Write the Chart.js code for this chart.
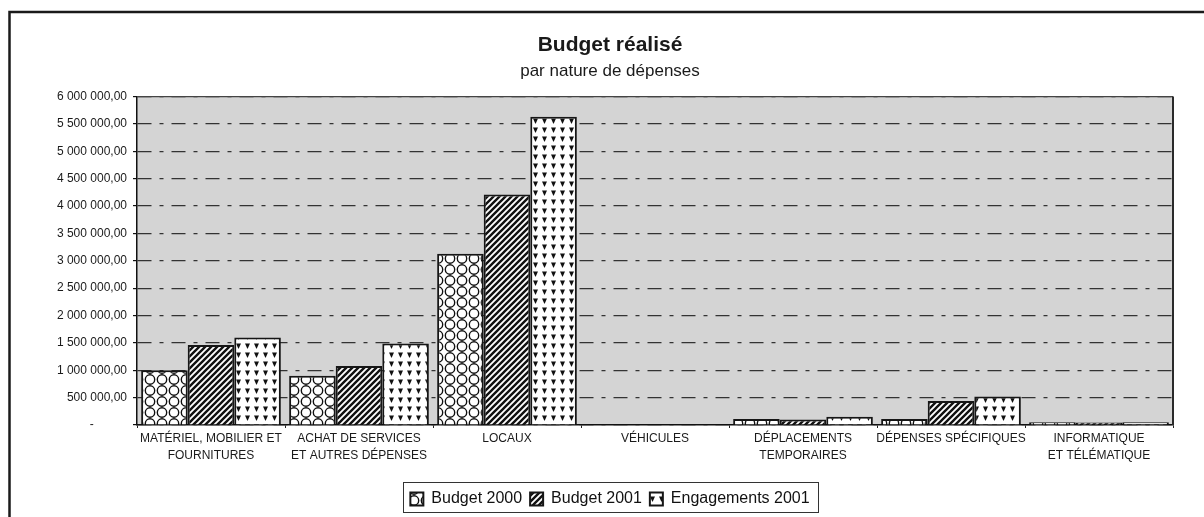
<!DOCTYPE html>
<html>
<head>
<meta charset="utf-8">
<script src="https://cdn.jsdelivr.net/npm/chart.js@4.4.0/dist/chart.umd.min.js"></script>
<style>
  html, body { margin: 0; padding: 0; background: #fff; }
  #wrap { width: 1204px; height: 517px; }
</style>
</head>
<body>
<div id="wrap"><canvas id="budgetChart" width="1204" height="517"></canvas></div>
<script>
// categories (multi-line labels) and amounts
const categories = [
  ['MATÉRIEL, MOBILIER ET', 'FOURNITURES'],
  ['ACHAT DE SERVICES', 'ET AUTRES DÉPENSES'],
  'LOCAUX',
  'VÉHICULES',
  ['DÉPLACEMENTS', 'TEMPORAIRES'],
  'DÉPENSES SPÉCIFIQUES',
  ['INFORMATIQUE', 'ET TÉLÉMATIQUE']
];
const budget2000      = [1000000,  900000, 3130000, 0, 110000, 110000, 50000];
const budget2001      = [1460000, 1080000, 4210000, 0, 100000, 440000, 45000];
const engagements2001 = [1600000, 1490000, 5630000, 0, 150000, 520000, 50000];

// y axis range
const yMax = 6000000;
const yStep = 500000;

Chart.defaults.font.family = '"Liberation Sans", Arial, sans-serif';
Chart.defaults.color = '#1a1a1a';

// "6 000 000,00" style, dash for zero
function fmtMoney(v) {
  if (v === 0) return '-' + '\u00a0'.repeat(10);
  return String(v).replace(/\B(?=(\d{3})+(?!\d))/g, ' ') + ',00';
}

const ctx = document.getElementById('budgetChart').getContext('2d');

// fill patterns
function makePattern(w, h, draw) {
  const c = document.createElement('canvas');
  c.width = w; c.height = h;
  const g = c.getContext('2d');
  g.fillStyle = '#fff';
  g.fillRect(0, 0, w, h);
  g.strokeStyle = '#111';
  g.fillStyle = '#111';
  draw(g, w, h);
  return ctx.createPattern(c, 'repeat');
}

const circles = makePattern(12, 11, function(g) {
  g.lineWidth = 1.4;
  g.beginPath();
  g.arc(6, 5.5, 4.7, 0, Math.PI * 2);
  g.stroke();
});

const hatch = makePattern(6, 6, function(g) {
  g.lineWidth = 2.4;
  g.beginPath();
  g.moveTo(0, 6); g.lineTo(6, 0);
  g.moveTo(-3, 3); g.lineTo(3, -3);
  g.moveTo(3, 9); g.lineTo(9, 3);
  g.stroke();
});

const triangles = makePattern(9, 9, function(g) {
  g.beginPath();
  g.moveTo(2, 1.5);
  g.lineTo(7, 1.5);
  g.lineTo(4.5, 7);
  g.closePath();
  g.fill();
});

// outer frame, grey plot area, plot border and legend box
const framePlugin = {
  id: 'frame',
  beforeDraw(chart) {
    const c = chart.ctx;
    const a = chart.chartArea;
    c.save();
    c.fillStyle = '#fff';
    c.fillRect(0, 0, chart.width, chart.height);
    c.strokeStyle = '#1a1a1a';
    c.lineWidth = 2.5;
    c.beginPath();
    c.moveTo(9.5, chart.height + 2);
    c.lineTo(9.5, 12);
    c.lineTo(chart.width + 2, 12);
    c.stroke();
    c.fillStyle = '#d4d4d4';
    c.fillRect(a.left, a.top, a.right - a.left, a.bottom - a.top);
    c.restore();
  },
  afterDraw(chart) {
    const c = chart.ctx;
    const a = chart.chartArea;
    c.save();
    c.strokeStyle = '#444';
    c.lineWidth = 1.2;
    c.beginPath();
    c.moveTo(a.left, a.top);
    c.lineTo(a.right, a.top);
    c.stroke();
    c.strokeStyle = '#2a2a2a';
    c.lineWidth = 2;
    c.beginPath();
    c.moveTo(a.right, a.top);
    c.lineTo(a.right, a.bottom);
    c.stroke();

    const boxes = chart.legend.legendHitBoxes;
    if (boxes && boxes.length) {
      const left = Math.min(...boxes.map(b => b.left)) - 7;
      const right = Math.max(...boxes.map(b => b.left + b.width)) + 9;
      const top = boxes[0].top - 9;
      const bottom = boxes[0].top + boxes[0].height + 5;
      c.strokeStyle = '#333';
      c.lineWidth = 1;
      c.strokeRect(Math.round(left) + 0.5, Math.round(top) + 0.5, Math.round(right - left), Math.round(bottom - top));
    }
    c.restore();
  }
};

new Chart(ctx, {
  type: 'bar',
  data: {
    labels: categories,
    datasets: [
      { label: 'Budget 2000', data: budget2000, backgroundColor: circles },
      { label: 'Budget 2001', data: budget2001, backgroundColor: hatch },
      { label: 'Engagements 2001', data: engagements2001, backgroundColor: triangles }
    ]
  },
  options: {
    responsive: false,
    animation: false,
    datasets: {
      bar: {
        categoryPercentage: 0.944,
        barPercentage: 1,
        borderColor: '#161616',
        borderWidth: 2
      }
    },
    layout: { padding: { left: 47, right: 31, top: 0, bottom: 0 } },
    plugins: {
      title: {
        display: true,
        text: 'Budget réalisé',
        color: '#1a1a1a',
        font: { size: 21, weight: 'bold' },
        padding: { top: 33, bottom: 0 }
      },
      subtitle: {
        display: true,
        text: 'par nature de dépenses',
        color: '#1a1a1a',
        font: { size: 17 },
        padding: { top: 3, bottom: 15 }
      },
      legend: {
        position: 'bottom',
        labels: {
          boxWidth: 13,
          boxHeight: 13,
          padding: 8,
          color: '#111',
          font: { size: 16 }
        }
      },
      tooltip: { enabled: false }
    },
    scales: {
      x: {
        grid: { display: true, drawOnChartArea: false, offset: true, tickLength: 3, tickColor: '#222' },
        border: { color: '#111', width: 1.5 },
        ticks: {
          color: '#1a1a1a',
          font: { size: 12, lineHeight: 1.35 },
          padding: 3,
          maxRotation: 0,
          autoSkip: false
        },
        afterFit: function(s) { s.height = 58; }
      },
      y: {
        min: 0,
        max: yMax,
        ticks: {
          stepSize: yStep,
          color: '#1a1a1a',
          font: { size: 12 },
          padding: 6,
          callback: fmtMoney
        },
        grid: {
          color: '#333',
          lineWidth: 1.2,
          tickLength: 4,
          tickColor: '#111',
          tickBorderDash: []
        },
        border: { color: '#111', width: 1.5, dash: [14, 8, 4, 8] },
        afterFit: function(s) { s.width = 90; }
      }
    }
  },
  plugins: [framePlugin]
});
</script>
</body>
</html>
